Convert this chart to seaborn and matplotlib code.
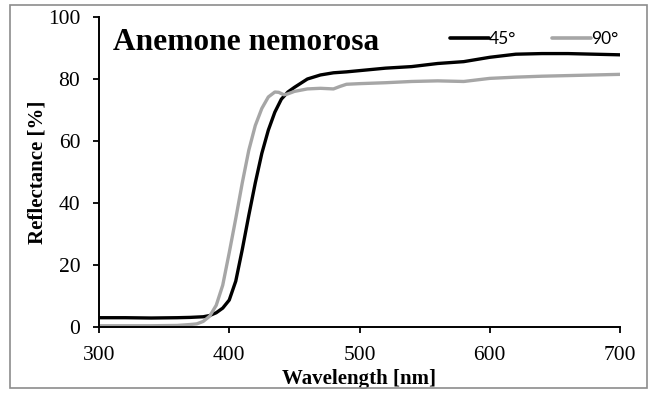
import matplotlib
matplotlib.use("Agg")
import matplotlib.pyplot as plt
from matplotlib.patches import Rectangle
import pandas as pd
import seaborn as sns

# Reflectance spectra of Anemone nemorosa petals at two viewing angles
wl_45 = [300, 320, 340, 360, 370, 380, 385, 390, 395, 400, 405, 410, 415, 420,
         425, 430, 435, 440, 445, 450, 460, 470, 480, 490, 500, 520, 540, 560,
         580, 600, 620, 640, 660, 680, 700]
refl_45 = [3.0, 3.0, 2.9, 3.0, 3.1, 3.3, 3.7, 4.6, 6.1, 8.7, 14.8, 25.0, 36.0,
           46.5, 56.0, 63.5, 69.3, 73.5, 75.8, 77.3, 80.0, 81.3, 82.0, 82.3,
           82.7, 83.5, 84.0, 85.0, 85.6, 87.0, 88.0, 88.2, 88.2, 88.0, 87.8]

wl_90 = [300, 320, 340, 360, 370, 375, 380, 385, 390, 395, 400, 405, 410, 415,
         420, 425, 430, 435, 438, 442, 445, 450, 460, 470, 480, 485, 490, 500,
         520, 540, 560, 580, 600, 620, 640, 660, 680, 700]
refl_90 = [0.4, 0.4, 0.4, 0.5, 0.8, 1.0, 1.8, 3.5, 7.0, 13.5, 24.0, 35.0, 46.5,
           57.0, 65.0, 70.5, 74.2, 75.8, 75.7, 74.9, 75.2, 76.0, 76.8, 77.0,
           76.8, 77.6, 78.3, 78.5, 78.8, 79.2, 79.4, 79.2, 80.2, 80.6, 80.9,
           81.1, 81.3, 81.5]

angles = ["45°", "90°"]
line_colors = ["#000000", "#a6a6a6"]
x_ticks = [300, 400, 500, 600, 700]
y_ticks = [0, 20, 40, 60, 80, 100]

df = pd.concat([
    pd.DataFrame({"wavelength": wl_45, "reflectance": refl_45, "angle": angles[0]}),
    pd.DataFrame({"wavelength": wl_90, "reflectance": refl_90, "angle": angles[1]}),
], ignore_index=True)

sns.set_theme(style="white")
plt.rcParams["font.family"] = ["Liberation Serif", "DejaVu Serif"]
plt.rcParams.update({"text.color": "black", "axes.labelcolor": "black",
                     "xtick.color": "black", "ytick.color": "black"})

fig = plt.figure(figsize=(6.57, 3.94), dpi=100)
ax = fig.add_axes([99 / 657, 1 - 327 / 394, 521 / 657, 310 / 394])

sns.lineplot(data=df, x="wavelength", y="reflectance", hue="angle",
             hue_order=angles, palette=dict(zip(angles, line_colors)),
             linewidth=2.4, ax=ax, estimator=None, sort=True)

ax.set_xlim(300, 700)
ax.set_ylim(0, 100)
ax.set_xticks(x_ticks)
ax.set_yticks(y_ticks)
ax.tick_params(axis="both", direction="out", length=4, width=1.3,
               color="black", labelcolor="black", labelsize=15.5, pad=9.5,
               bottom=True, left=True)
for side in ["top", "right"]:
    ax.spines[side].set_visible(False)
for side in ["left", "bottom"]:
    ax.spines[side].set_color("black")
    ax.spines[side].set_linewidth(1.4)

ax.set_xlabel("Wavelength [nm]", fontsize=15, fontweight="bold", labelpad=3)
ax.set_ylabel("Reflectance [%]", fontsize=15, fontweight="bold", labelpad=0)

ax.text(0.026, 0.894, "Anemone nemorosa", transform=ax.transAxes,
        fontsize=22.6, fontweight="bold", va="baseline", ha="left")

leg = ax.legend(loc="center right", bbox_to_anchor=(0.996, 0.929), ncol=2,
                frameon=False, handlelength=2.2, handletextpad=0.0,
                columnspacing=2.1, borderpad=0, borderaxespad=0,
                prop={"family": "Lato", "size": 12.5})
for line in leg.get_lines():
    line.set_linewidth(2.6)

# thin grey frame around the whole chart area
fig.patches.append(Rectangle((10 / 657, 1 - 388 / 394), 637 / 657, 383 / 394,
                             transform=fig.transFigure, fill=False,
                             edgecolor="#8c8c8c", linewidth=1.2))

fig.savefig("out.png", dpi=100)
